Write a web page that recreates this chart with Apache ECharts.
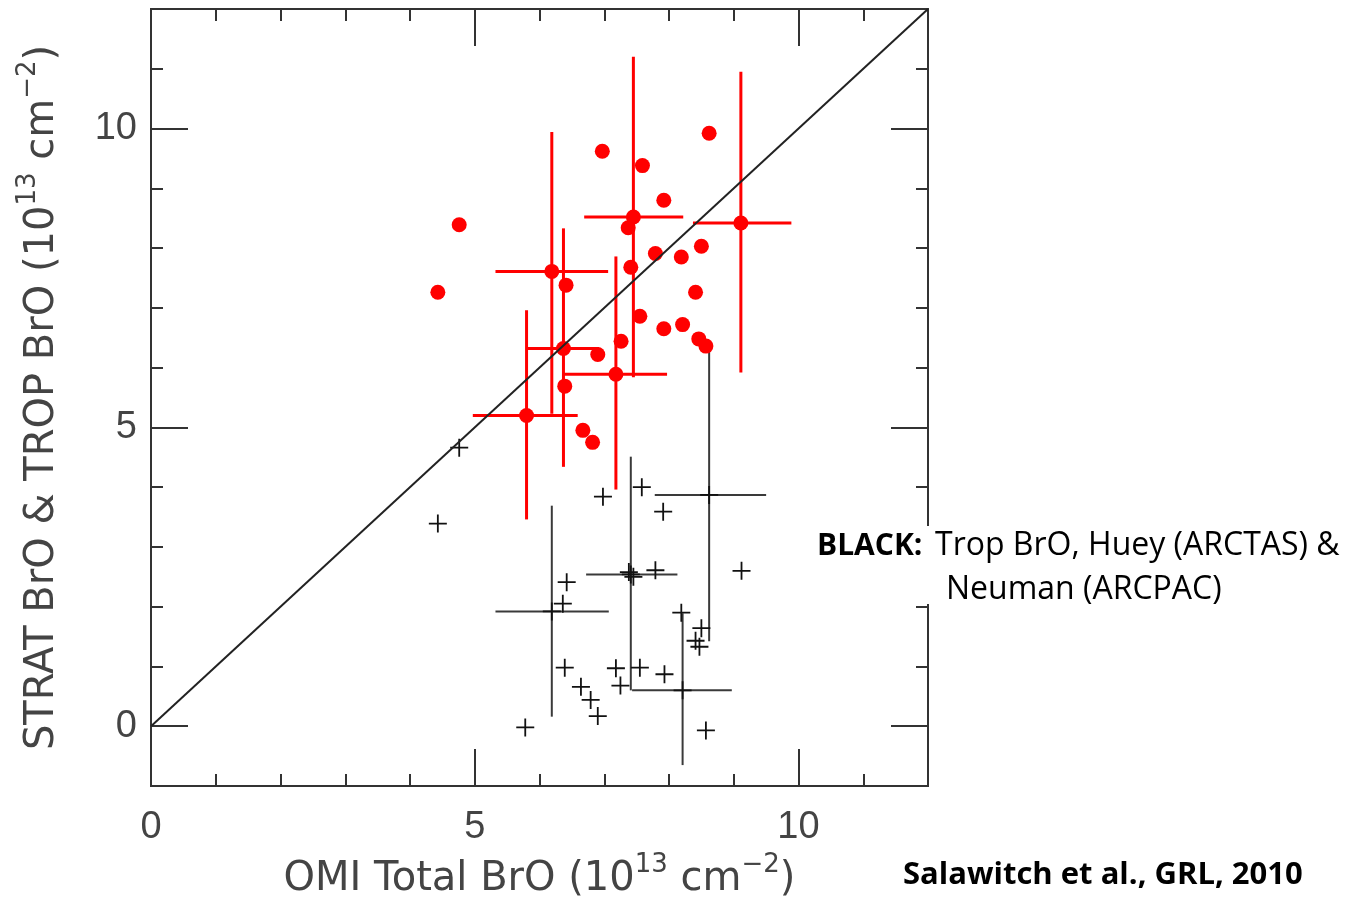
<!DOCTYPE html>
<html>
<head>
<meta charset="utf-8">
<script src="https://cdn.jsdelivr.net/npm/echarts@6/dist/echarts.min.js"></script>
<style>
html,body{margin:0;padding:0;background:#fff;}
#chart{width:1361px;height:900px;}
</style>
</head>
<body>
<div id="chart"></div>
<script>
// ---- data (units of 1e13 cm^-2) ----
const xRange = [0, 12];
const yRange = [-1, 12];
const tickLabelsX = [0, 5, 10];
const tickLabelsY = [0, 5, 10];
const minorTicksX = [1, 2, 3, 4, 6, 7, 8, 9, 11];
const majorTicksX = [5, 10];
const minorTicksY = [1, 2, 3, 4, 6, 7, 8, 9, 11];
const majorTicksY = [0, 5, 10];
const oneToOne = [[0, 0], [12, 12]];

// red: STRAT BrO (x = OMI total, y = strat)
const stratPoints = [
  [8.62, 9.92], [6.97, 9.62], [7.59, 9.38], [7.92, 8.80], [4.76, 8.39],
  [7.45, 8.52], [7.37, 8.34], [9.11, 8.42], [8.50, 8.03], [8.19, 7.85],
  [7.79, 7.91], [7.41, 7.68], [6.19, 7.61], [6.41, 7.38], [4.43, 7.26],
  [8.41, 7.26], [7.55, 6.86], [7.92, 6.65], [8.21, 6.72], [8.46, 6.48],
  [8.57, 6.36], [7.26, 6.44], [6.37, 6.32], [6.90, 6.22], [7.18, 5.89],
  [6.39, 5.69], [5.80, 5.20], [6.67, 4.95], [6.82, 4.75]
];
// [x, y, xLow, xHigh, yLow, yHigh]
const stratErrors = [
  [7.45, 8.52, 6.69, 8.22, 5.84, 11.20],
  [9.11, 8.42, 8.37, 9.89, 5.92, 10.95],
  [6.19, 7.61, 5.32, 7.06, 5.23, 9.94],
  [6.37, 6.32, 5.80, 6.92, 4.34, 8.33],
  [7.18, 5.89, 6.36, 7.97, 3.96, 7.86],
  [5.80, 5.20, 4.97, 6.59, 3.46, 6.96]
];

// black: TROP BrO
const tropPoints = [
  [4.76, 4.66], [4.43, 3.39], [7.58, 4.00], [6.98, 3.84], [7.91, 3.59],
  [8.62, 3.87], [7.41, 2.54], [7.38, 2.58], [7.45, 2.50], [7.79, 2.61],
  [9.12, 2.60], [6.42, 2.41], [6.36, 2.05], [6.19, 1.92], [8.19, 1.90],
  [8.50, 1.64], [8.41, 1.43], [8.47, 1.33], [6.39, 0.98], [7.18, 0.97],
  [7.55, 0.98], [7.93, 0.87], [6.64, 0.66], [7.25, 0.68], [6.79, 0.44],
  [8.21, 0.60], [6.90, 0.17], [5.78, -0.02], [8.57, -0.07]
];
const tropErrors = [
  [8.62, 3.87, 7.78, 9.50, 1.42, 6.33],
  [7.41, 2.54, 6.72, 8.13, 0.60, 4.51],
  [6.19, 1.92, 5.32, 7.07, 0.16, 3.69],
  [8.21, 0.60, 7.43, 8.97, -0.65, 1.89]
];

const xTitle = '{n|OMI Total BrO (10}{s|13}{n| cm}{s|\u22122}{n|)}';
const yTitle = '{n|STRAT BrO & TROP BrO (10}{s|13}{n| cm}{s|\u22122}{n|)}';
const noteLine1Bold = 'BLACK:';
const noteLine1 = 'Trop BrO, Huey (ARCTAS) &';
const noteLine2 = 'Neuman (ARCPAC)';
const citation = 'Salawitch et al., GRL, 2010';

// ---- styling ----
const AX = '#333333';
const TXT = '#444444';
const titleRich = {
  n: { fontFamily: 'DejaVu Sans', fontSize: 40, lineHeight: 48, verticalAlign: 'bottom', color: TXT },
  s: { fontFamily: 'DejaVu Sans', fontSize: 26, verticalAlign: 'top', color: TXT }
};

function errRender(color, width) {
  return function (params, api) {
    const x = api.value(0), y = api.value(1);
    const a = api.coord([api.value(2), y]), b = api.coord([api.value(3), y]);
    const c = api.coord([x, api.value(4)]), d = api.coord([x, api.value(5)]);
    const st = { stroke: color, lineWidth: width };
    return {
      type: 'group',
      children: [
        { type: 'line', shape: { x1: a[0], y1: a[1], x2: b[0], y2: b[1] }, style: st },
        { type: 'line', shape: { x1: c[0], y1: c[1], x2: d[0], y2: d[1] }, style: st }
      ]
    };
  };
}

function mkAxis(pos, range, ticks, len, opts) {
  return Object.assign({
    type: 'value', position: pos, min: range[0], max: range[1],
    splitLine: { show: false },
    axisLine: { show: true, onZero: false, lineStyle: { color: AX, width: 2 } },
    axisTick: { show: true, inside: true, length: len, customValues: ticks, lineStyle: { color: AX, width: 2 } },
    axisLabel: { show: false }
  }, opts || {});
}

const chart = echarts.init(document.getElementById('chart'), null, { renderer: 'canvas' });
chart.setOption({
  backgroundColor: '#ffffff',
  animation: false,
  grid: { left: 151, top: 9, width: 777, height: 777, containLabel: false, outerBoundsMode: 'none' },
  xAxis: [
    mkAxis('bottom', xRange, minorTicksX, 12, {
      name: xTitle, nameLocation: 'middle', nameGap: 62,
      nameTextStyle: { rich: titleRich },
      axisLabel: { show: true, customValues: tickLabelsX, margin: 23, fontFamily: 'Liberation Sans', fontSize: 38, color: TXT }
    }),
    mkAxis('bottom', xRange, majorTicksX, 37),
    mkAxis('top', xRange, minorTicksX, 12),
    mkAxis('top', xRange, majorTicksX, 37)
  ],
  yAxis: [
    mkAxis('left', yRange, minorTicksY, 12, {
      name: yTitle, nameLocation: 'middle', nameGap: 88, nameRotate: 90,
      nameTextStyle: { rich: titleRich },
      axisLabel: { show: true, customValues: tickLabelsY, margin: 14, fontFamily: 'Liberation Sans', fontSize: 38, color: TXT }
    }),
    mkAxis('left', yRange, majorTicksY, 37),
    mkAxis('right', yRange, minorTicksY, 12),
    mkAxis('right', yRange, majorTicksY, 37)
  ],
  series: [
    {
      type: 'line', data: oneToOne, symbol: 'none', silent: true,
      lineStyle: { color: '#222', width: 2 }
    },
    {
      type: 'custom', data: tropErrors, renderItem: errRender('#3a3a3a', 2), silent: true, clip: true
    },
    {
      type: 'scatter', data: tropPoints, silent: true,
      symbol: 'path://M-0.8,-8 L0.8,-8 L0.8,-0.8 L8,-0.8 L8,0.8 L0.8,0.8 L0.8,8 L-0.8,8 L-0.8,0.8 L-8,0.8 L-8,-0.8 L-0.8,-0.8 Z',
      symbolSize: 18, itemStyle: { color: '#111', opacity: 1 }
    },
    {
      type: 'custom', data: stratErrors, renderItem: errRender('#ff0000', 3), silent: true, clip: true
    },
    {
      type: 'scatter', data: stratPoints, silent: true,
      symbol: 'circle', symbolSize: 15, itemStyle: { color: '#ff0000', opacity: 1 }
    }
  ],
  graphic: {
    elements: [
      {
        type: 'rect', z: 100, zlevel: 0, shape: { x: 810, y: 526, width: 545, height: 78 },
        style: { fill: '#ffffff' }, silent: true
      },
      {
        type: 'text', z: 101, x: 817, y: 546,
        style: { text: noteLine1Bold, font: 'bold 30px "Open Sans"', fill: '#000', verticalAlign: 'middle', align: 'left' }
      },
      {
        type: 'text', z: 101, x: 935, y: 546,
        style: { text: noteLine1, font: '32px "Open Sans"', fill: '#000', verticalAlign: 'middle', align: 'left' }
      },
      {
        type: 'text', z: 101, x: 946, y: 590,
        style: { text: noteLine2, font: '32px "Open Sans"', fill: '#000', verticalAlign: 'middle', align: 'left' }
      },
      {
        type: 'text', z: 101, x: 903, y: 875,
        style: { text: citation, font: 'bold 31px "Open Sans"', fill: '#000', verticalAlign: 'middle', align: 'left' }
      }
    ]
  }
});
</script>
</body>
</html>
